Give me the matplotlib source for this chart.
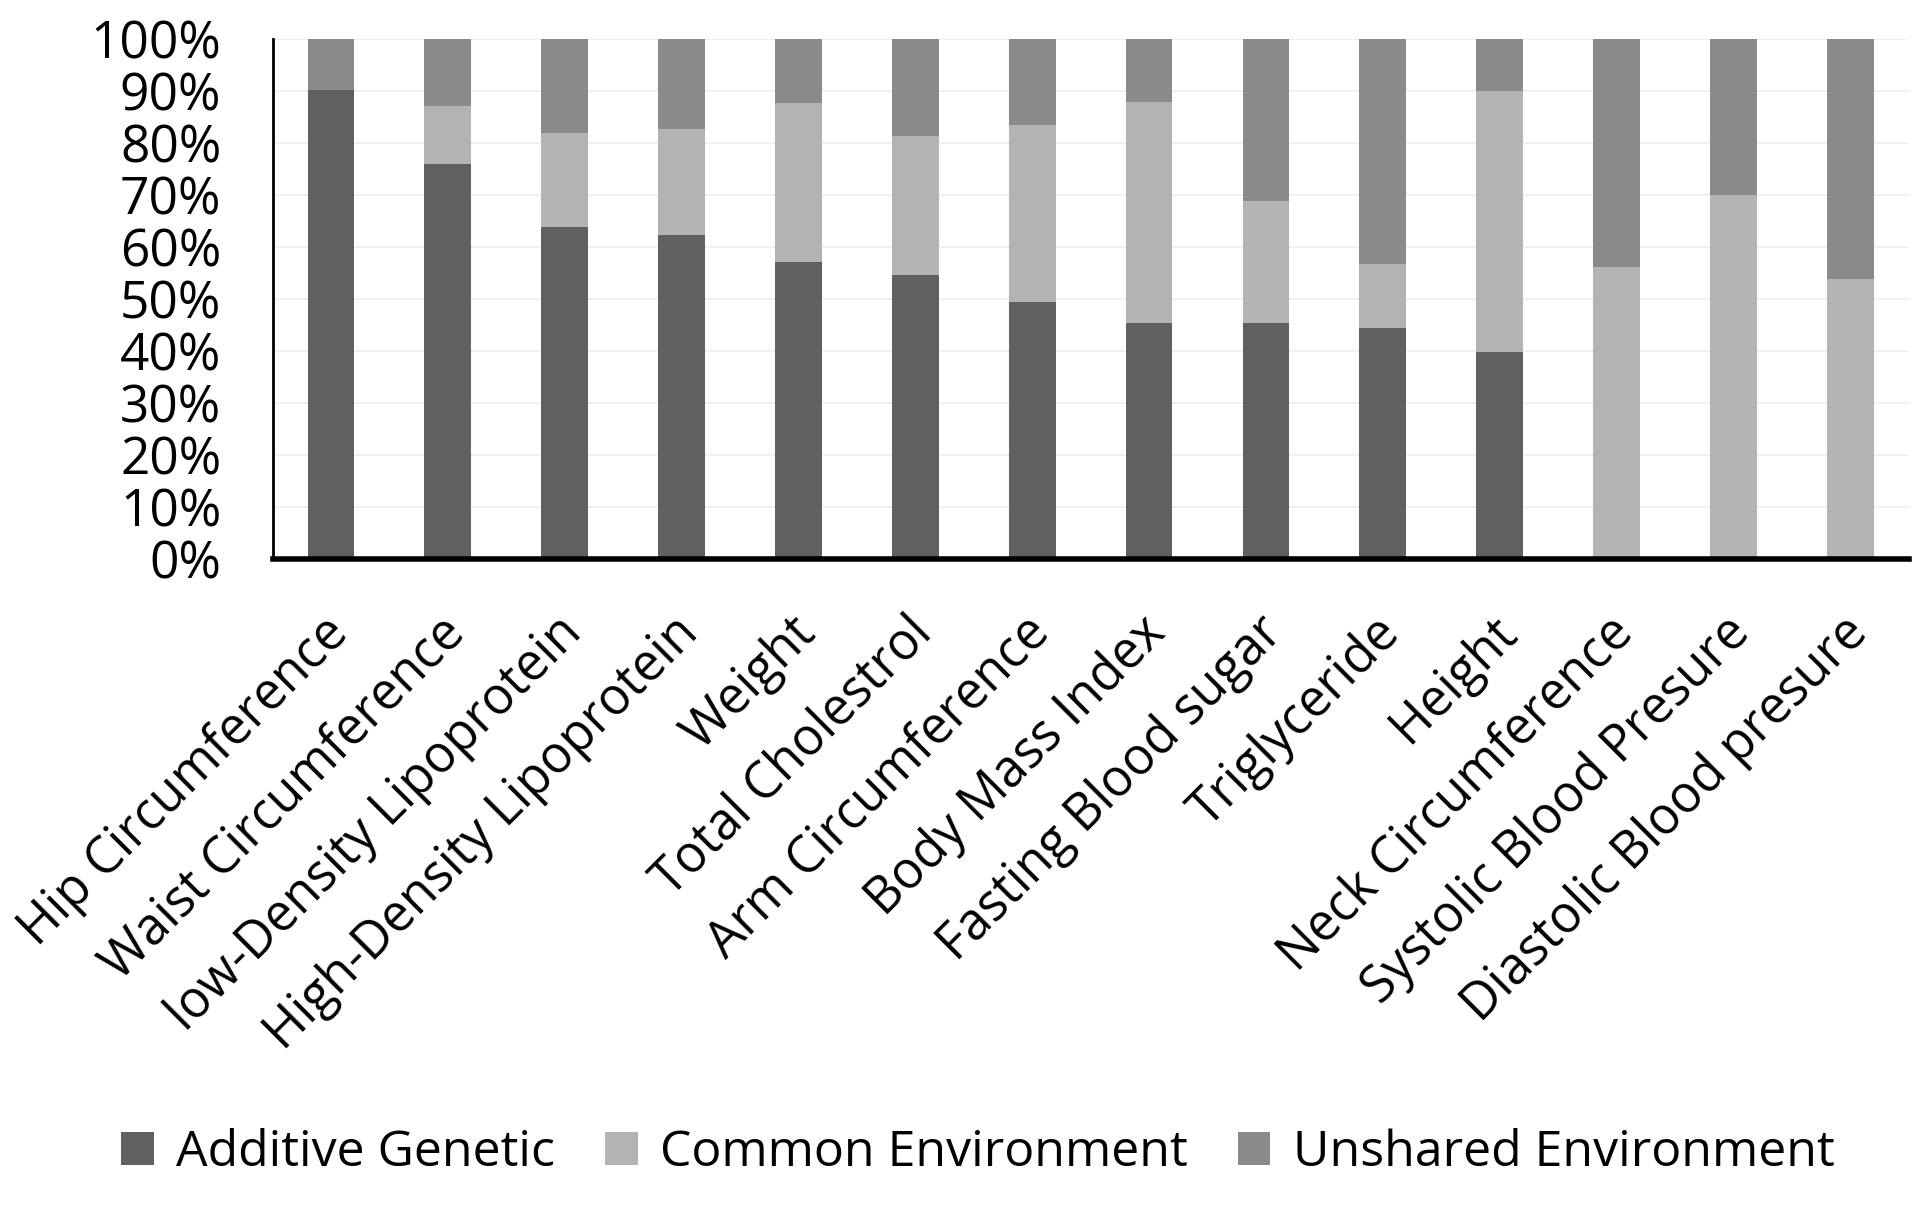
import numpy as np
import matplotlib
matplotlib.use("Agg")
import matplotlib.pyplot as plt
import matplotlib.transforms as mtransforms
from matplotlib.ticker import PercentFormatter

plt.rcParams['font.family'] = ['Open Sans', 'DejaVu Sans']

traits = ["Hip Circumference", "Waist Circumference", "low-Density Lipoprotein",
          "High-Density Lipoprotein", "Weight", "Total Cholestrol", "Arm Circumference",
          "Body Mass Index", "Fasting Blood sugar", "Triglyceride", "Height",
          "Neck Circumference", "Systolic Blood Presure", "Diastolic Blood presure"]
additive = [90.3, 75.9, 63.9, 62.4, 57.1, 54.7, 49.5, 45.3, 45.3, 44.5, 39.8, 0, 0, 0]
common = [0, 11.3, 18.1, 20.3, 30.7, 26.7, 34.0, 42.7, 23.6, 12.2, 50.3, 56.2, 70.1, 53.8]
unshared = [100 - a - c for a, c in zip(additive, common)]

fig = plt.figure(figsize=(19.25, 12.22), dpi=100)
ax = fig.add_axes([0.1416, 0.5429, 0.8499, 0.4249])

x = np.arange(len(traits))
w = 0.4
b1 = ax.bar(x, additive, w, color='#606060', label='Additive Genetic', zorder=3)
b2 = ax.bar(x, common, w, bottom=additive, color='#b3b3b3', label='Common Environment', zorder=3)
bot = [a + c for a, c in zip(additive, common)]
b3 = ax.bar(x, unshared, w, bottom=bot, color='#8a8a8a', label='Unshared Environment', zorder=3)

ax.set_xlim(-0.5, len(traits) - 0.5)
ax.set_ylim(0, 100)
ax.set_yticks(np.arange(0, 101, 10))
ax.yaxis.set_major_formatter(PercentFormatter(decimals=0))
ax.grid(axis='y', color='#eeeeee', linewidth=1.2, zorder=0)

for s in ['top', 'right']:
    ax.spines[s].set_visible(False)
ax.spines['left'].set_linewidth(2)
ax.spines['bottom'].set_linewidth(4)
ax.spines['bottom'].set_zorder(4)

ax.tick_params(axis='both', length=0)
ax.tick_params(axis='y', pad=37, labelsize=37)
ax.set_xticks(x)
ax.set_xticklabels(traits, rotation=45, ha='right', va='center', rotation_mode='anchor', fontsize=36.5)
ax.tick_params(axis='x', pad=48)
# nudge rotated labels a little to the right
shift = mtransforms.ScaledTranslation(0.09, 0, fig.dpi_scale_trans)
for lbl in ax.get_xticklabels():
    lbl.set_transform(lbl.get_transform() + shift)

fig.legend(handles=[b1, b2, b3], loc='center', bbox_to_anchor=(0.508, 0.056), ncol=3,
           frameon=False, fontsize=36, handlelength=0.65, handleheight=0.65,
           handletextpad=0.45, columnspacing=1.0)

fig.savefig('out.png', dpi=100)
